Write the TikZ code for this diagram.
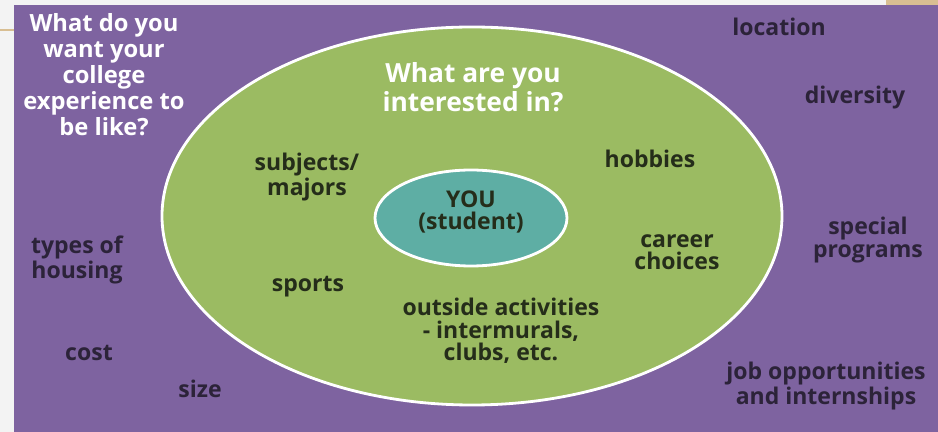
\documentclass[tikz,border=0pt]{standalone}
\usepackage{fontspec}
\setmainfont{Open Sans}
\usetikzlibrary{backgrounds}

\definecolor{bgpurple}{HTML}{7E63A0}
\definecolor{ringgreen}{HTML}{9BBB62}
\definecolor{coreteal}{HTML}{5EAEA4}
\definecolor{inkpurple}{HTML}{2C2339}
\definecolor{inkgreen}{HTML}{252D1A}
\definecolor{paper}{HTML}{F3F3F3}
\definecolor{tan}{HTML}{D8BE92}

\tikzset{
  lbl/.style={font=\bfseries\fontsize{13.1}{12.8}\selectfont, align=center, inner sep=0pt},
  outer/.style={lbl, text=inkpurple},
  inner/.style={lbl, text=inkgreen},
  head/.style={lbl, text=white, font=\bfseries\fontsize{13.5}{14.8}\selectfont}
}

\begin{document}
\begin{tikzpicture}[x=0.02cm, y=-0.02cm]
\useasboundingbox (0,0) rectangle (938,432);
\fill[paper] (0,0) rectangle (938,432);
\fill[tan] (886,0) rectangle (938,5);
\draw[tan, line width=1pt] (0,30) -- (14,30);
\fill[bgpurple] (14,5) rectangle (938,432);

% the two rings
\draw[white, fill=ringgreen, line width=1.6pt] (472,216) ellipse [x radius=310, y radius=189];
\draw[white, fill=coreteal, line width=1.6pt] (471,218) ellipse [x radius=96, y radius=48];

% college questions
\node[head] (college) at (104,75) {What do you\\want your\\college\\experience to\\be like?};
\node[outer] (location) at (779,27) {location};
\node[outer] (diversity) at (855,98) {diversity};
\node[outer] (special) at (868,240) {special\\programs};
\node[outer] (jobs) at (826,386) {job opportunities\\and internships};
\node[outer] (housing) at (77,260) {types of\\housing};
\node[outer] (cost) at (89,353) {cost};
\node[outer] (size) at (200,389) {size};

% interests
\node[head, font=\bfseries\fontsize{15}{16.4}\selectfont] (interest) at (473,87) {What are you\\interested in?};
\node[inner] (subjects) at (307,177) {subjects/\\majors};
\node[inner] (hobbies) at (650,159) {hobbies};
\node[inner] (career) at (677,252) {career\\choices};
\node[inner] (sports) at (308,287) {sports};
\node[inner] (outside) at (501,331) {outside activities\\- intermurals,\\clubs, etc.};

\node[inner] (you) at (471,212) {YOU\\(student)};
\end{tikzpicture}
\end{document}
